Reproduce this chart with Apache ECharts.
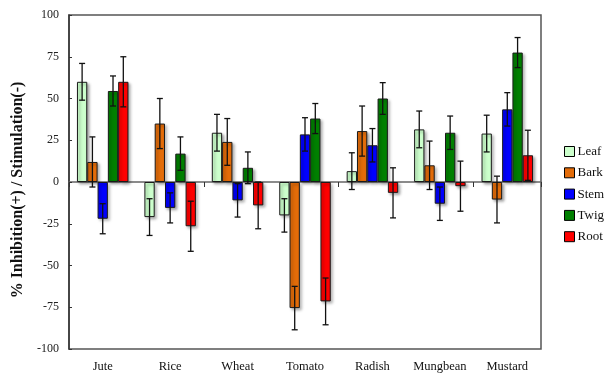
<!DOCTYPE html>
<html><head><meta charset="utf-8">
<script src="https://cdn.jsdelivr.net/npm/echarts@6/dist/echarts.min.js"></script>
<style>html,body{margin:0;padding:0;background:#fff}#c{width:608px;height:374px}</style>
</head><body><div id="c"></div>
<script>
var categories = ['Jute','Rice','Wheat','Tomato','Radish','Mungbean','Mustard'];
var seriesNames = ['Leaf','Bark','Stem','Twig','Root'];
var leaf    = [60, -21, 29.5, -20, 6.5, 31.5, 29];
var leafErr = [11, 11, 11, 10, 11, 11, 11];
var bark    = [12, 35, 24, -75.5, 30.5, 10, -10.5];
var barkErr = [15, 15, 14, 13, 15, 14.5, 14];
var stem    = [-22, -15.5, -11, 28.5, 22, -13, 43.5];
var stemErr = [9, 9, 10, 10, 10, 10, 10];
var twig    = [54.5, 17, 8.5, 38, 50, 29.5, 77.5];
var twigErr = [9, 10, 9.5, 9, 9.5, 10, 9];
var root    = [60, -26.5, -14, -71.5, -6.5, -2.5, 16];
var rootErr = [15, 15, 14, 14, 15, 15, 15];
var yTicks = [-100, -75, -50, -25, 0, 25, 50, 75, 100];
var yTitle = '% Inhibition(+) / Stimulation(-)';

var values = [leaf, bark, stem, twig, root];
var errs = [leafErr, barkErr, stemErr, twigErr, rootErr];
var colors = ['#ccffcc', '#e36c09', '#0000ff', '#008000', '#ff0000'];
var BW = 10.3;
var font = '"Liberation Serif","Times New Roman",serif';

var chart = echarts.init(document.getElementById('c'));
var series = [];
values.forEach(function (vals, i) {
  series.push({
    name: seriesNames[i], type: 'bar', xAxisIndex: 0, data: vals,
    barWidth: BW, barGap: '0%',
    itemStyle: { color: colors[i], borderColor: '#1a1a1a', borderWidth: 1,
      shadowColor: 'rgba(0,0,0,0.35)', shadowBlur: 3, shadowOffsetX: 2, shadowOffsetY: 2 },
    z: 2
  });
});
values.forEach(function (vals, i) {
  var errData = vals.map(function (v, k) { return [k, v, errs[i][k]]; });
  series.push({
    type: 'custom', xAxisIndex: 0, data: errData, z: 5, silent: true,
    renderItem: function (params, api) {
      var k = api.value(0), v = api.value(1), e = api.value(2);
      var p0 = api.coord([k, v + e]);
      var p1 = api.coord([k, v - e]);
      var x = p0[0] + (i - 2) * BW;
      var c = 3;
      var st = { stroke: '#111', lineWidth: 1.3 };
      return { type: 'group', children: [
        { type: 'line', shape: { x1: x, y1: p0[1], x2: x, y2: p1[1] }, style: st },
        { type: 'line', shape: { x1: x - c, y1: p0[1], x2: x + c, y2: p0[1] }, style: st },
        { type: 'line', shape: { x1: x - c, y1: p1[1], x2: x + c, y2: p1[1] }, style: st }
      ]};
    }
  });
});

chart.setOption({
  animation: false,
  backgroundColor: '#fff',
  grid: { left: 69, top: 15, right: 67, bottom: 25, show: true, borderColor: '#555', borderWidth: 1.5, backgroundColor: 'transparent' },
  graphic: [{
    type: 'text', x: 18, y: 190, rotation: Math.PI / 2,
    style: { text: yTitle, font: 'bold 16px ' + font, fill: '#111', align: 'center', verticalAlign: 'middle' }
  }],
  legend: {
    orient: 'vertical', left: 559, top: 140, itemWidth: 10, itemHeight: 10, itemGap: 8.3,
    icon: 'rect', data: seriesNames,
    itemStyle: { borderColor: '#000', borderWidth: 1, shadowBlur: 0, shadowOffsetX: 0, shadowOffsetY: 0 },
    textStyle: { fontFamily: font, fontSize: 13, color: '#111', padding: [0, 0, 0, -2] }
  },
  xAxis: [
    { type: 'category', data: categories, axisLine: { onZero: true, lineStyle: { color: '#666', width: 1.5 } },
      axisTick: { show: true, length: 5, lineStyle: { color: '#333' } }, axisLabel: { show: false }, splitLine: { show: false } },
    { type: 'category', data: categories, position: 'bottom', axisLine: { show: false, onZero: false }, axisTick: { show: false },
      axisLabel: { interval: 0, fontFamily: font, fontSize: 12.5, color: '#111', margin: 11 } }
  ],
  yAxis: {
    type: 'value', min: -100, max: 100, interval: 25,
    axisLine: { show: true, lineStyle: { color: '#333', width: 1.5 } },
    axisTick: { show: true, inside: true, length: 3, lineStyle: { color: '#333' } },
    axisLabel: { fontFamily: font, fontSize: 12, color: '#222', margin: 10,
      formatter: function (v) { return yTicks.indexOf(v) >= 0 ? String(v) : ''; } },
    splitLine: { show: false }
  },
  series: series
});
</script></body></html>
